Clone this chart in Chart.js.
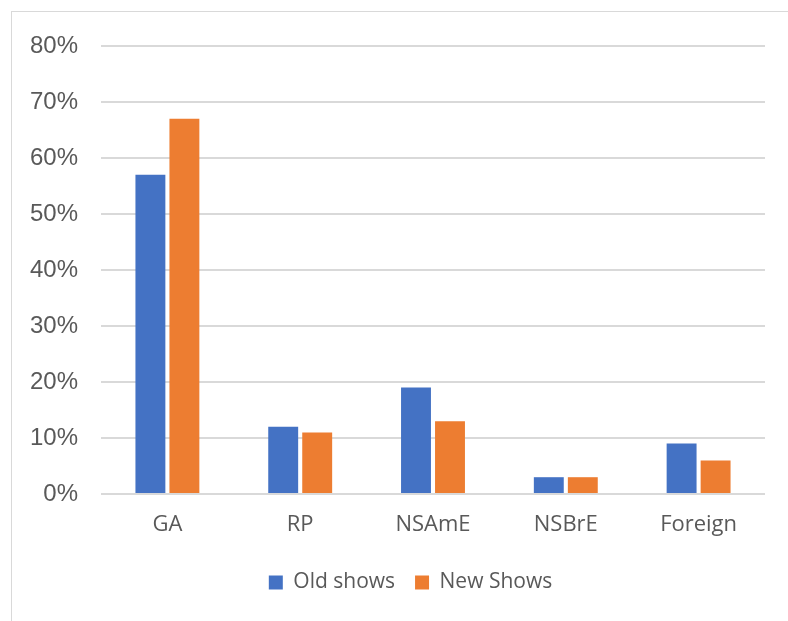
<!DOCTYPE html>
<html>
<head>
<meta charset="utf-8">
<script src="https://cdn.jsdelivr.net/npm/chart.js@4.4.1/dist/chart.umd.min.js"></script>
<style>
  html, body { margin: 0; padding: 0; background: #fff; overflow: hidden; }
  #frame { position: absolute; left: 11px; top: 11px; width: 800px; height: 640px; border: 1px solid #d9d9d9; }
  #wrap { position: absolute; left: 0; top: 0; width: 788px; height: 621px; }
</style>
</head>
<body>
<div id="frame"></div>
<div id="wrap"><canvas id="chart"></canvas></div>
<script>
// categories and series
const categories = ['GA', 'RP', 'NSAmE', 'NSBrE', 'Foreign'];
const oldShows = [57, 12, 19, 3, 9];
const newShows = [67, 11, 13, 3, 6];

const textColor = '#595959';

// nudge the legend right so it sits under the middle of the plot
const legendShift = {
    id: 'legendShift',
    afterLayout: function (chart) {
        if (chart.legend) {
            chart.legend.left += 28;
            chart.legend.right += 28;
        }
    }
};

const ctx = document.getElementById('chart').getContext('2d');
new Chart(ctx, {
    type: 'bar',
    data: {
        labels: categories,
        datasets: [
            { label: 'Old shows', data: oldShows, backgroundColor: '#4472C4' },
            { label: 'New Shows', data: newShows, backgroundColor: '#ED7D31' }
        ]
    },
    plugins: [legendShift],
    options: {
        responsive: true,
        maintainAspectRatio: false,
        animation: false,
        datasets: {
            bar: { categoryPercentage: 0.512, barPercentage: 0.88 }
        },
        layout: { padding: { left: 0, right: 23, top: 46, bottom: 18 } },
        plugins: {
            tooltip: { enabled: false },
            legend: {
                position: 'bottom',
                labels: {
                    boxWidth: 14,
                    boxHeight: 14,
                    padding: 20,
                    color: textColor,
                    font: { family: '"Open Sans", sans-serif', size: 21 }
                }
            }
        },
        scales: {
            x: {
                grid: { display: false, drawTicks: false },
                border: { display: false },
                ticks: {
                    color: textColor,
                    padding: 18,
                    font: { family: '"Open Sans", sans-serif', size: 22 }
                },
                afterFit: function (axis) { axis.height = 58; }
            },
            y: {
                min: 0,
                max: 80,
                grid: { color: '#d9d9d9', lineWidth: 2, drawTicks: false },
                border: { display: false },
                ticks: {
                    stepSize: 10,
                    color: textColor,
                    padding: 23,
                    font: { family: '"Liberation Sans", Arial, sans-serif', size: 24 },
                    callback: function (v) { return v + '%'; }
                },
                afterFit: function (axis) { axis.width = 101; }
            }
        }
    }
});
</script>
</body>
</html>
